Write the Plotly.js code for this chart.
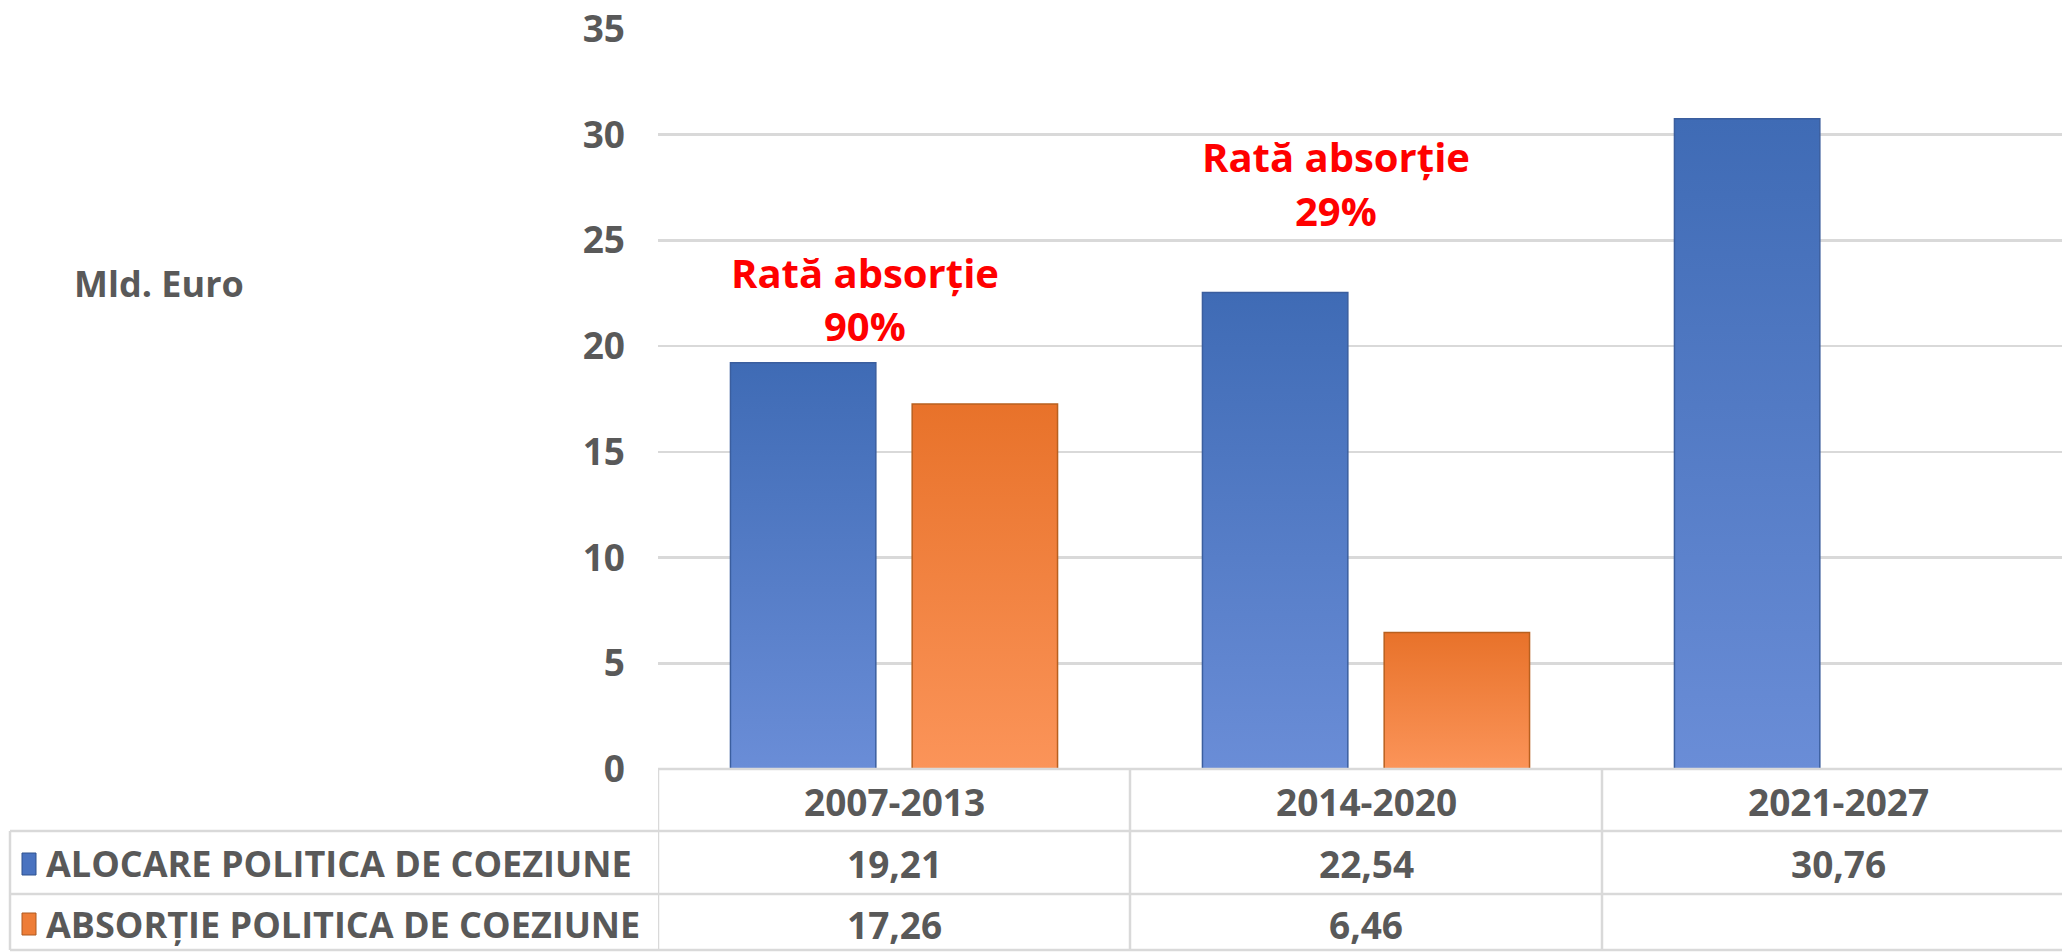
<!DOCTYPE html>
<html>
<head>
<meta charset="utf-8">
<script src="https://cdn.plot.ly/plotly-3.0.1.min.js"></script>
<style>
html,body{margin:0;padding:0;background:#fff;overflow:hidden;}
#chart{width:2074px;height:952px;}
</style>
</head>
<body>
<div id="chart"></div>
<script>
// ---- data ----
const categories = ["2007-2013", "2014-2020", "2021-2027"];
const seriesNames = ["ALOCARE POLITICA DE COEZIUNE", "ABSORȚIE POLITICA DE COEZIUNE"];
const alocare = [19.21, 22.54, 30.76];
const absortie = [17.26, 6.46, null];
const rateTitle = ["Rată absorție", "Rată absorție"];
const ratePct = ["90%", "29%"];
const yTicks = [0, 5, 10, 15, 20, 25, 30, 35];

// ---- style ----
const GREY = "#595959";
const LINE = "#d9d9d9";
const FONT = "Open Sans";
const BLUE = "#5279C6";
const ORANGE = "#F0843F";
const TS = 37;
const LS = 36;

const fmt = v => (v === null || v === undefined) ? "" : v.toFixed(2).replace(".", ",");

const traces = [
  {type: "bar", name: seriesNames[0], x: categories, y: alocare,
   marker: {color: BLUE, line: {color: "#3B5E9E", width: 1.5}}, hoverinfo: "skip"},
  {type: "bar", name: seriesNames[1], x: categories, y: absortie,
   marker: {color: ORANGE, line: {color: "#B8601F", width: 1.5}}, hoverinfo: "skip"}
];

// plot area in pixels: x 658..2074, y 29..769
const L = 658, W = 1416, T = 29, B = 769;
const px2py = p => (B - p) / (B - T);
const px2px = p => (p - L) / W;

const shapes = [];
const annotations = [];
const lineStyle = {color: LINE, width: 2.5};

shapes.push({type: "line", xref: "paper", yref: "paper", x0: 0, x1: 1, y0: 0, y1: 0, line: lineStyle});
[831, 894, 950].forEach(p => {
  shapes.push({type: "line", xref: "paper", yref: "paper", x0: px2px(10), x1: 1, y0: px2py(p), y1: px2py(p), line: lineStyle});
});
[-0.5, 0.5, 1.5].forEach(b => {
  shapes.push({type: "line", xref: "x", yref: "paper", x0: b, x1: b, y0: 0, y1: px2py(950), line: lineStyle});
});
shapes.push({type: "line", xref: "paper", yref: "paper", x0: px2px(10), x1: px2px(10), y0: px2py(831), y1: px2py(950), line: lineStyle});

categories.forEach((c, i) => {
  annotations.push({xref: "x", yref: "paper", x: i, y: px2py(801), text: c, showarrow: false,
    xanchor: "center", yanchor: "middle", font: {family: FONT, size: TS, color: GREY, weight: 700}});
});
const rows = [alocare, absortie];
const rowY = [864, 924];
const keyColors = [["#4A73C0", "#2F528F"], ["#EE7D37", "#AE5A21"]];
rows.forEach((vals, r) => {
  shapes.push({type: "rect", xref: "paper", yref: "paper",
    x0: px2px(22), x1: px2px(36), y0: px2py(rowY[r] + 11), y1: px2py(rowY[r] - 11),
    fillcolor: keyColors[r][0], line: {color: keyColors[r][1], width: 1}});
  annotations.push({xref: "paper", yref: "paper", x: px2px(44), y: px2py(rowY[r]), text: seriesNames[r],
    showarrow: false, xanchor: "left", yanchor: "middle",
    font: {family: FONT, size: LS, color: GREY, weight: 700}});
  vals.forEach((v, i) => {
    annotations.push({xref: "x", yref: "paper", x: i, y: px2py(rowY[r]), text: fmt(v), showarrow: false,
      xanchor: "center", yanchor: "middle", font: {family: FONT, size: TS, color: GREY, weight: 700}});
  });
});

annotations.push({xref: "paper", yref: "paper", x: px2px(72), y: px2py(283), text: "Mld. Euro",
  showarrow: false, xanchor: "left", yanchor: "middle", font: {family: FONT, size: 36, color: GREY, weight: 700}});

// absorption rate labels (two lines each)
const rateX = [-0.062, 0.936];
const rateY1 = [23.5, 28.95];
const rateY2 = [21.0, 26.4];
rateTitle.forEach((t, i) => {
  annotations.push({xref: "x", yref: "y", x: rateX[i], y: rateY1[i], text: t, showarrow: false,
    xanchor: "center", yanchor: "middle", font: {family: FONT, size: 40, color: "#FF0000", weight: 700}});
  annotations.push({xref: "x", yref: "y", x: rateX[i], y: rateY2[i], text: ratePct[i], showarrow: false,
    xanchor: "center", yanchor: "middle", font: {family: FONT, size: 40, color: "#FF0000", weight: 700}});
});

const layout = {
  width: 2074, height: 952,
  margin: {l: L, r: 0, t: T, b: 952 - B, pad: 0},
  paper_bgcolor: "#fff", plot_bgcolor: "#fff",
  showlegend: false,
  barmode: "group", bargap: 0.23, bargroupgap: 0.2,
  xaxis: {type: "category", showticklabels: false, showgrid: false, zeroline: false, showline: false, ticks: "",
          range: [-0.5, 2.5], fixedrange: true},
  yaxis: {range: [0, 35], tickvals: yTicks, ticktext: yTicks.map(String), showgrid: true, gridcolor: LINE, gridwidth: 2.5,
          zeroline: false, showline: false, ticks: "", ticklabelstandoff: 32,
          tickfont: {family: FONT, size: 37, color: GREY, weight: 700}, fixedrange: true},
  shapes: shapes,
  annotations: annotations
};

Plotly.newPlot("chart", traces, layout, {displayModeBar: false, staticPlot: true}).then(gd => {
  const svg = gd.querySelector(".main-svg");
  const ns = "http://www.w3.org/2000/svg";
  let defs = svg.querySelector("defs");
  if (!defs) { defs = document.createElementNS(ns, "defs"); svg.insertBefore(defs, svg.firstChild); }
  const grads = [["gBlue", "#3F6BB5", "#6A8DD7"], ["gOrange", "#E8722A", "#FB9459"]];
  grads.forEach(([id, c1, c2]) => {
    const lg = document.createElementNS(ns, "linearGradient");
    lg.setAttribute("id", id);
    lg.setAttribute("x1", "0"); lg.setAttribute("y1", "0"); lg.setAttribute("x2", "0"); lg.setAttribute("y2", "1");
    [[0, c1], [1, c2]].forEach(([o, c]) => {
      const s = document.createElementNS(ns, "stop");
      s.setAttribute("offset", o); s.setAttribute("stop-color", c);
      lg.appendChild(s);
    });
    defs.appendChild(lg);
  });
  gd.querySelectorAll(".barlayer .trace").forEach((t, i) => {
    t.querySelectorAll(".point path").forEach(p => { p.style.fill = "url(#" + grads[i][0] + ")"; });
  });
});
</script>
</body>
</html>
